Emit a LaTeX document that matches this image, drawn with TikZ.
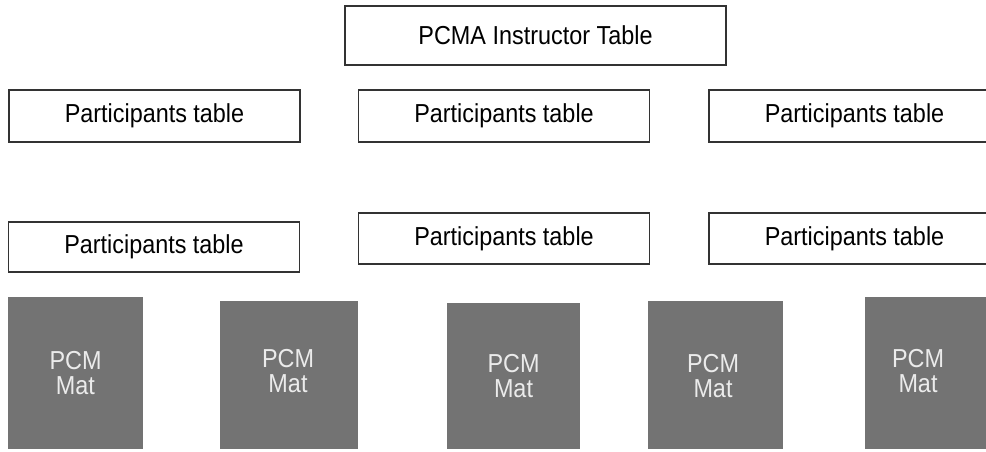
\documentclass[tikz,border=0pt]{standalone}
\usepackage{fontspec}
\newfontfamily\pcmfont[FakeStretch=0.9]{Liberation Sans}
\usetikzlibrary{positioning}

\begin{document}
\begin{tikzpicture}[x=1pt, y=-1pt,
    tablebox/.style={draw=black!80, line width=1.5pt, fill=white, inner sep=0pt,
        minimum width=291pt, minimum height=52pt, font={\pcmfont\fontsize{26}{25}\selectfont}},
    matbox/.style={fill=black!55, inner sep=0pt, minimum width=135pt, minimum height=152pt},
    mattext/.style={text=white!92!black, align=center, font={\pcmfont\fontsize{26}{25}\selectfont}}]
    \useasboundingbox (0,0) rectangle (986,451);
    \clip (0,0) rectangle (986,451);

    % Instructor
    \node[tablebox, minimum width=381pt, minimum height=59pt] (instr) at (535.5,35.5) {PCMA Instructor Table};

    % Participants tables, first row
    \node[tablebox] (ptA) at (154.5,116) {Participants table};
    \node[tablebox] (ptB) at (504,116) {Participants table};
    \node[tablebox] (ptC) at (854.5,116) {Participants table};

    % Participants tables, second row
    \node[tablebox, minimum height=50pt] (ptD) at (154,247) {Participants table};
    \node[tablebox, minimum height=51pt] (ptE) at (504,238.5) {Participants table};
    \node[tablebox, minimum height=51pt] (ptF) at (854.5,238.5) {Participants table};

    % Mats
    \node[matbox] (matA) at (75.5,373) {};
    \node[matbox, minimum width=138pt, minimum height=148pt] (matB) at (289,375) {};
    \node[matbox, minimum width=133pt, minimum height=146pt] (matC) at (513.5,376) {};
    \node[matbox, minimum height=148pt] (matD) at (715.5,375) {};
    \node[matbox] (matE) at (932.5,373) {};

    \node[mattext] (labA) at (matA.center) {PCM\\Mat};
    \node[mattext] (labB) at (288,371) {PCM\\Mat};
    \node[mattext] (labC) at (matC.center) {PCM\\Mat};
    \node[mattext] (labD) at (713,376) {PCM\\Mat};
    \node[mattext] (labE) at (918,371) {PCM\\Mat};
\end{tikzpicture}
\end{document}
